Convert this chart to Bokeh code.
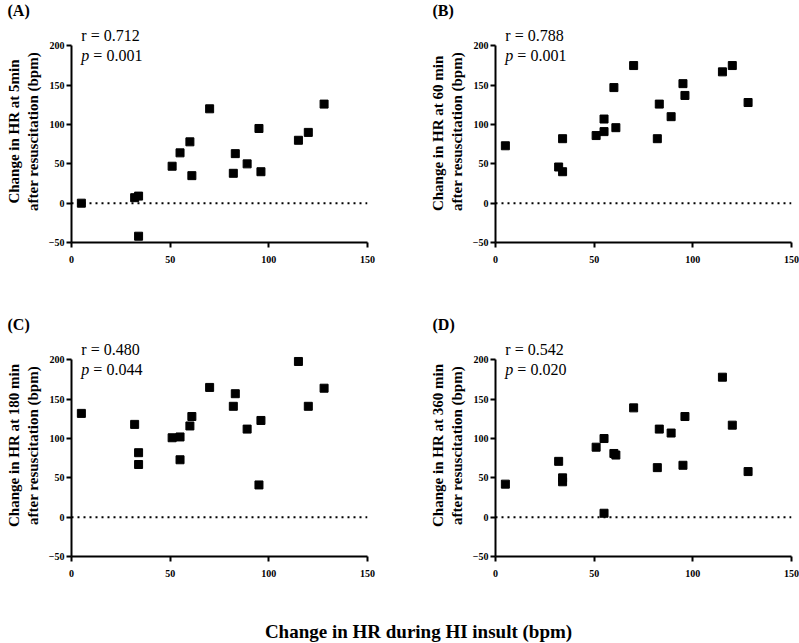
from bokeh.plotting import figure
from bokeh.layouts import column, row
from bokeh.models import FixedTicker, Span, Range1d
from bokeh.embed import file_html
from bokeh.resources import INLINE
from bokeh.core.properties import value

# ---------------- data ----------------
insult_5min = [5, 32, 34, 34, 51, 55, 60, 61, 70, 82, 83, 89, 95, 96, 115, 120, 128]
hr_5min = [0, 7, 9, -42, 47, 64, 78, 35, 120, 38, 63, 50, 95, 40, 80, 90, 126]

insult = [5, 32, 34, 34, 51, 55, 55, 60, 61, 70, 82, 83, 89, 95, 96, 115, 120, 128]
hr_60min = [73, 46, 82, 40, 86, 91, 107, 147, 96, 175, 82, 126, 110, 152, 137, 167, 175, 128]
hr_180min = [132, 118, 82, 67, 101, 102, 73, 116, 128, 165, 141, 157, 112, 41, 123, 198, 141, 164]
hr_360min = [42, 71, 50, 45, 89, 100, 5, 81, 79, 139, 63, 112, 107, 66, 128, 178, 117, 58]

panel_tags = ["(A)", "(B)", "(C)", "(D)"]
y_titles = ["Change in HR at 5min", "Change in HR  at 60 min",
            "Change in HR at 180 min", "Change in HR at 360 min"]
y_title_2 = "after resuscitation (bpm)"
r_values = ["0.712", "0.788", "0.480", "0.542"]
p_values = ["0.001", "0.001", "0.044", "0.020"]
x_ticks = [0, 50, 100, 150]
y_ticks = [-50, 0, 50, 100, 150, 200]
x_title = "Change in HR during HI insult (bpm)"

FONT = "Liberation Serif"
Y_TOP = 232.3


def panel(xs, ys, idx, width, border_left, border_right, height, border_bottom):
    p = figure(width=width, height=height,
               x_range=Range1d(0, 150), y_range=Range1d(-50, Y_TOP),
               output_backend="svg", toolbar_location=None,
               min_border_left=border_left, min_border_right=border_right,
               min_border_top=0, min_border_bottom=border_bottom)
    p.grid.visible = False
    p.outline_line_color = None

    for ax in (p.xaxis[0], p.yaxis[0]):
        ax.axis_line_width = 2
        ax.axis_line_color = "black"
        ax.major_tick_line_width = 2
        ax.major_tick_line_color = "black"
        ax.major_tick_out = 5
        ax.major_tick_in = 0
        ax.minor_tick_out = 0
        ax.minor_tick_in = 0
        ax.major_label_text_font = FONT
        ax.major_label_text_font_style = "bold"
        ax.major_label_text_font_size = "10px"
        ax.major_label_text_color = "black"
    p.xaxis.ticker = FixedTicker(ticks=x_ticks)
    p.yaxis.ticker = FixedTicker(ticks=y_ticks)
    p.yaxis.bounds = (-50, 200)
    p.xaxis.bounds = (0, 150)
    p.xaxis.major_label_standoff = 8
    p.yaxis.major_label_standoff = 2

    p.yaxis.axis_label = y_titles[idx] + "\n" + y_title_2
    p.yaxis.axis_label_text_font = FONT
    p.yaxis.axis_label_text_font_style = "bold"
    p.yaxis.axis_label_text_font_size = "15px"
    p.yaxis.axis_label_text_color = "black"
    p.yaxis.axis_label_standoff = 5

    p.add_layout(Span(location=0, dimension="width", line_color="black",
                      line_width=2, line_dash="2 4"))

    p.scatter(xs, ys, marker="square", size=8, color="black")

    p.text(x=[5], y=[205.5], text=["r = " + r_values[idx]], y_offset=-6,
           text_font=value(FONT), text_font_size="16px",
           text_baseline="alphabetic", text_color="black")
    p.text(x=[5], y=[180.5], text=["p"], y_offset=-6,
           text_font=value(FONT), text_font_size="16px", text_font_style="italic",
           text_baseline="alphabetic", text_color="black")
    p.text(x=[5], y=[180.5], text=["= " + p_values[idx]], x_offset=12, y_offset=-6,
           text_font=value(FONT), text_font_size="16px",
           text_baseline="alphabetic", text_color="black")
    return p


def tag_strip(tags):
    s = figure(width=799, height=20, x_range=Range1d(0, 799), y_range=Range1d(0, 20),
               output_backend="svg", toolbar_location=None,
               x_axis_type=None, y_axis_type=None,
               min_border_left=0, min_border_right=0, min_border_top=0, min_border_bottom=0)
    s.grid.visible = False
    s.outline_line_color = None
    s.text(x=[7, 432], y=[4, 4], text=tags, y_offset=-6, text_font=value(FONT),
           text_font_size="16px", text_font_style="bold",
           text_baseline="alphabetic", text_color="black")
    return s


tags_top = tag_strip(panel_tags[0:2])
pA = panel(insult_5min, hr_5min, 0, 425, 71, 58, 294, 72)
pB = panel(insult, hr_60min, 1, 374, 70, 8, 294, 72)
tags_bottom = tag_strip(panel_tags[2:4])
pC = panel(insult, hr_180min, 2, 425, 71, 58, 264, 42)
pD = panel(insult, hr_360min, 3, 374, 70, 8, 264, 42)

pX = figure(width=799, height=44, x_range=Range1d(0, 799), y_range=Range1d(0, 44),
            output_backend="svg", toolbar_location=None,
            x_axis_type=None, y_axis_type=None,
            min_border_left=0, min_border_right=0, min_border_top=0, min_border_bottom=0)
pX.grid.visible = False
pX.outline_line_color = None
pX.text(x=[418], y=[8], text=[x_title], y_offset=-3, text_font=value(FONT),
        text_font_size="19px", text_font_style="bold", text_align="center",
        text_baseline="alphabetic", text_color="black")

layout = column(tags_top, row(pA, pB), tags_bottom, row(pC, pD), pX)

open("out.html", "w").write(file_html(layout, INLINE))
